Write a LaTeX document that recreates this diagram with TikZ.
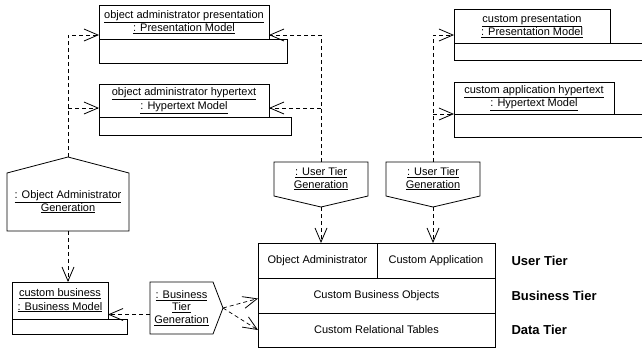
\documentclass[tikz,border=0pt]{standalone}
\usepackage{fontspec}
\setmainfont{Liberation Sans}
\usetikzlibrary{arrows.meta, positioning}

\tikzset{
	namebox/.style={rectangle, draw=black, line width=0.8pt, outer sep=0pt, inner sep=1pt, align=center, font=\fontsize{11}{13.5}\selectfont},
	slotbox/.style={rectangle, draw=black, line width=0.8pt, outer sep=0pt, inner sep=0pt, anchor=north west},
	genbox/.style={rectangle, outer sep=0pt, inner sep=1pt, align=center, font=\fontsize{11}{12.5}\selectfont},
	outline/.style={draw=black, line width=0.8pt, line join=miter},
	tierbox/.style={rectangle, draw=black, line width=0.8pt, outer sep=0pt, inner sep=0pt, font=\fontsize{11}{13}\selectfont},
	tierlabel/.style={font=\fontsize{13}{15}\selectfont\bfseries},
	link/.style={line width=0.7pt, dash pattern=on 4pt off 3pt},
	dep/.style={link, -{Straight Barb[length=14pt, width=12pt, line width=0.8pt]}}
}

\begin{document}
\begin{tikzpicture}[x=1pt, y=-1pt]
	\useasboundingbox (0,0) rectangle (642,349);

	\node[namebox, minimum width=170, minimum height=34](oapres) at (184,22){\underline{object administrator presentation}\\\underline{: Presentation Model}};
	\node[slotbox, minimum width=188, minimum height=24](oapresslot) at (oapres.south west){};
	\node[namebox, minimum width=170, minimum height=33](oahyp) at (184,100.5){\underline{object administrator hypertext}\\\underline{: Hypertext Model}};
	\node[slotbox, minimum width=192, minimum height=18](oahypslot) at (oahyp.south west){};

	\node[namebox, minimum width=156, minimum height=34](custpres) at (532,26){\underline{custom presentation}\\\underline{: Presentation Model}};
	\node[slotbox, minimum width=200, minimum height=17](custpresslot) at (custpres.south west){};
	\node[namebox, minimum width=160, minimum height=32](custhyp) at (534,98){\underline{custom application hypertext}\\\underline{: Hypertext Model}};
	\node[slotbox, minimum width=200, minimum height=23](custhypslot) at (custhyp.south west){};

	\node[namebox, minimum width=96, minimum height=37](custbus) at (60,300.5){\underline{custom business}\\\underline{: Business Model}};
	\node[slotbox, minimum width=115, minimum height=15](custbusslot) at (custbus.south west){};

	\node[genbox, minimum width=122, minimum height=58](oagen) at (68,202){\underline{: Object Administrator}\\\underline{Generation}};
	\coordinate (oagentip) at ([yshift=16pt]oagen.north);
	\draw[outline] (oagen.south west) -- (oagen.north west) -- (oagentip) -- (oagen.north east) -- (oagen.south east) -- cycle;

	\node[genbox, minimum width=94, minimum height=34](utga) at (321,179){\underline{: User Tier}\\\underline{Generation}};
	\coordinate (utgatip) at ([yshift=-11pt]utga.south);
	\draw[outline] (utga.north west) -- (utga.south west) -- (utgatip) -- (utga.south east) -- (utga.north east) -- cycle;

	\node[genbox, minimum width=94, minimum height=34](utgb) at (433,179){\underline{: User Tier}\\\underline{Generation}};
	\coordinate (utgbtip) at ([yshift=-11pt]utgb.south);
	\draw[outline] (utgb.north west) -- (utgb.south west) -- (utgbtip) -- (utgb.south east) -- (utgb.north east) -- cycle;

	\node[genbox, minimum width=63, minimum height=52](btg) at (181.5,308){\underline{: Business}\\\underline{Tier}\\\underline{Generation}};
	\coordinate (btgtip) at ([xshift=10pt]btg.east);
	\draw[outline] (btg.south west) -- (btg.north west) -- (btg.north east) -- (btgtip) -- (btg.south east) -- cycle;

	\node[tierbox, minimum width=119, minimum height=35](oaapp) at (317.5,260.5){Object Administrator};
	\node[tierbox, minimum width=118, minimum height=35](custapp) at (436,260.5){Custom Application};
	\node[tierbox, minimum width=237, minimum height=35](busobj) at (376.5,295.5){Custom Business Objects};
	\node[tierbox, minimum width=237, minimum height=34](reltab) at (376.5,330){Custom Relational Tables};

	\node[tierlabel, right=13pt of custapp](usertier){User Tier};
	\node[tierlabel, right=13pt of busobj](bustier){Business Tier};
	\node[tierlabel, right=13pt of reltab](datatier){Data Tier};

	\coordinate (oapresin) at ([yshift=-13pt]oapres.west);
	\coordinate (oahypin) at ([yshift=-7.5pt]oahyp.west);
	\coordinate (oapresback) at ([yshift=-13pt]oapres.east);
	\coordinate (oahypback) at ([yshift=-7.5pt]oahyp.east);
	\coordinate (custpresin) at ([yshift=-9pt]custpres.west);

	\draw[dep] (oagentip) |- (oapresin);
	\draw[dep] (oagentip |- oahypin) -- (oahypin);
	\draw[dep] (utga.north) |- (oapresback);
	\draw[dep] (utga.north |- oahypback) -- (oahypback);
	\draw[dep] (utgb.north) |- (custpresin);
	\draw[dep] (utgb.north |- custhyp.south west) -- (custhyp.south west);

	\draw[dep] (oagen.south) -- (oagen.south |- custbus.north);
	\draw[dep] ([yshift=-6.5pt]btg.west) -- ([yshift=-6.5pt]btg.west -| custbus.east);
	\draw[dep] (btgtip) -- ([yshift=-3pt]busobj.west);
	\draw[dep] (btgtip) -- (reltab.west);
	\draw[dep] (utgatip) -- (utgatip |- oaapp.north);
	\draw[dep] (utgbtip) -- (utgbtip |- custapp.north);

\end{tikzpicture}
\end{document}
